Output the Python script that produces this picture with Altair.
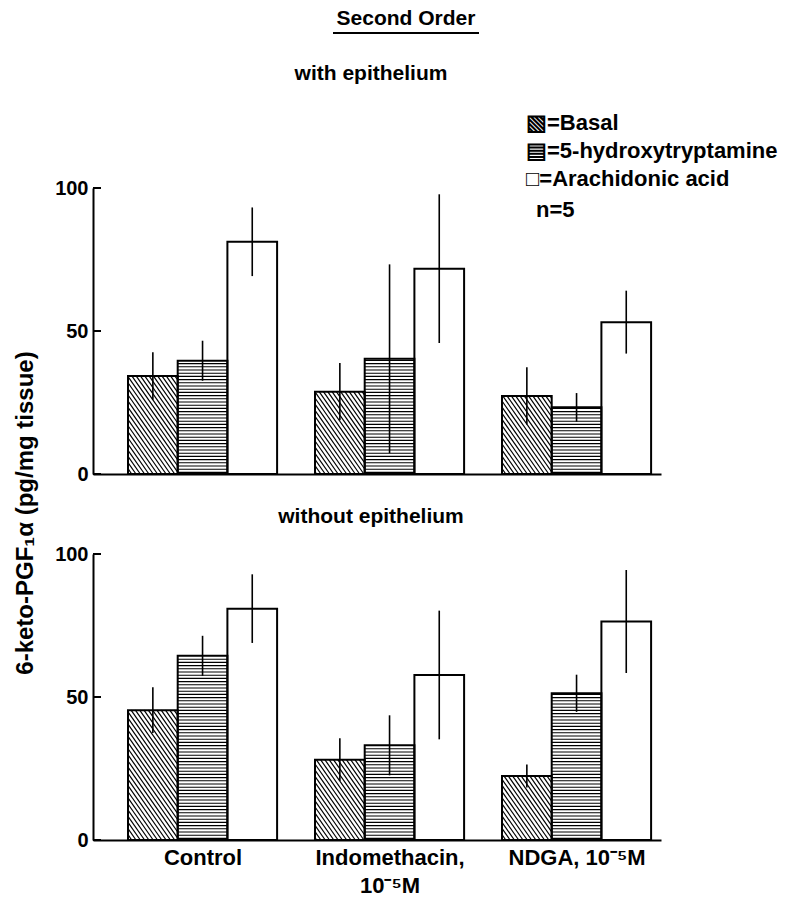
import math
import altair as alt
import pandas as pd

# ---------------- data ----------------
groups = ["Control", "Indomethacin, 10⁻⁵M", "NDGA, 10⁻⁵M"]
series = ["Basal", "5-hydroxytryptamine", "Arachidonic acid"]

with_basal = [34.3, 28.8, 27.3]
with_basal_err = [8.3, 10.0, 10.0]
with_5ht = [39.6, 40.3, 23.3]
with_5ht_err = [7.0, 33.0, 5.0]
with_aa = [81.2, 71.8, 53.1]
with_aa_err = [12.0, 26.0, 11.0]

without_basal = [45.4, 28.1, 22.4]
without_basal_err = [8.0, 7.5, 4.0]
without_5ht = [64.4, 33.1, 51.3]
without_5ht_err = [7.0, 10.5, 6.5]
without_aa = [80.9, 57.7, 76.4]
without_aa_err = [12.0, 22.5, 18.0]

y_ticks = [0, 50, 100]

# ---------------- layout ----------------
W, H = 568, 286          # plot area of each panel (px)
PPU = H / 100.0          # px per y unit
G_START, G_STEP, BAR_W = 35.0, 187.0, 49.7
FONT = "Liberation Sans"


def bar_table(vals):
    rows = []
    for s_i, (name, (means, errs)) in enumerate(zip(series, vals)):
        for g_i, g in enumerate(groups):
            left = G_START + g_i * G_STEP + s_i * BAR_W
            rows.append(dict(group=g, series=name, left=left, right=left + BAR_W,
                             center=left + BAR_W / 2, value=means[g_i], base=0.0,
                             lo=means[g_i] - errs[g_i], hi=means[g_i] + errs[g_i]))
    return pd.DataFrame(rows)


def hatch_tables(bars):
    horiz, diag = [], []
    k = math.tan(math.radians(55))
    d = 4.3
    for _, r in bars.iterrows():
        L, R, Hp = r.left, r.right, r.value * PPU
        if r.series == "5-hydroxytryptamine":
            v = 1.6
            while v < Hp - 0.8:
                horiz.append(dict(x=L, x2=R, y=v / PPU))
                v += 3.2
        elif r.series == "Basal":
            step = k * d
            c = math.ceil(k * L / step) * step
            while c < Hp + k * R:
                u1 = max(L, (c - Hp) / k)
                u2 = min(R, c / k)
                if u2 - u1 > 0.3:
                    diag.append(dict(x=u1, y=(c - k * u1) / PPU,
                                     x2=u2, y2=(c - k * u2) / PPU))
                c += step
    return pd.DataFrame(horiz), pd.DataFrame(diag)


xs = alt.Scale(domain=[0, W], nice=False, zero=False)
ys = alt.Scale(domain=[0, 100], nice=False)

one = pd.DataFrame({"a": [0]})


def txt(s, x, y, size=21, align="center", angle=0, baseline="alphabetic"):
    kw = dict(font=FONT, fontWeight="bold", fontSize=size, align=align,
              baseline=baseline, color="black")
    if angle:
        kw["angle"] = angle
    return alt.Chart(one).mark_text(**kw).encode(
        x=alt.value(x), y=alt.value(y), text=alt.value(s))


def panel(vals, bottom):
    bars = bar_table(vals)
    horiz, diag = hatch_tables(bars)
    centers = [G_START + g * G_STEP + 1.5 * BAR_W for g in range(3)]
    if bottom:
        xaxis = alt.Axis(values=centers, labels=True, ticks=False, grid=False,
                         title=None, labelPadding=7, labelLineHeight=28,
                         labelFontSize=22, labelBaseline="top",
                         labelExpr="datum.value < 200 ? 'Control' : (datum.value < 400 ? ['Indomethacin,', '10⁻⁵M'] : 'NDGA, 10⁻⁵M')")
    else:
        xaxis = alt.Axis(labels=False, ticks=False, grid=False, title=None)
    yaxis = alt.Axis(values=y_ticks, ticks=False, grid=False, title=None,
                     labelPadding=5, labelFontSize=20)

    X = lambda f: alt.X(f, scale=xs, axis=xaxis, title=None)
    Y = lambda f: alt.Y(f, scale=ys, axis=yaxis, title=None)

    fill = alt.Chart(bars).mark_rect(fill="white").encode(
        x=X("left:Q"), x2="right:Q", y=Y("value:Q"), y2="base:Q")
    h = alt.Chart(horiz).mark_rule(color="black", strokeWidth=1.1).encode(
        x=X("x:Q"), x2="x2:Q", y=Y("y:Q"))
    dg = alt.Chart(diag).mark_rule(color="black", strokeWidth=1.2).encode(
        x=X("x:Q"), x2="x2:Q", y=Y("y:Q"), y2="y2:Q")
    outline = alt.Chart(bars).mark_rect(fillOpacity=0, stroke="black", strokeWidth=2).encode(
        x=X("left:Q"), x2="right:Q", y=Y("value:Q"), y2="base:Q")
    err = alt.Chart(bars).mark_rule(color="black", strokeWidth=1.6).encode(
        x=X("center:Q"), y=Y("lo:Q"), y2="hi:Q")
    tk = alt.Chart(pd.DataFrame({"t": y_ticks})).mark_rule(color="black", strokeWidth=2).encode(
        x=alt.value(0), x2=alt.value(8), y=Y("t:Q"))

    layers = [fill, h, dg, outline, err, tk]
    if not bottom:
        layers += [
            txt("Second Order", 313, -163),
            alt.Chart(one).mark_rule(color="black", strokeWidth=2).encode(
                x=alt.value(240), x2=alt.value(386), y=alt.value(-155)),
            txt("with epithelium", 278, -108),
            txt("▧=Basal", 433, -58, size=22, align="left"),
            txt("▤=5-hydroxytryptamine", 433, -30, size=22, align="left"),
            txt("□=Arachidonic acid", 433, -2, size=22, align="left"),
            txt("n=5", 443, 29, size=22, align="left"),
            txt("6-keto-PGF₁α (pg/mg tissue)", -67, 325, size=24, angle=270,
                baseline="middle"),
        ]
    else:
        layers += [txt("without epithelium", 278, -31)]
    return alt.layer(*layers).properties(width=W, height=H)


top = panel([(with_basal, with_basal_err), (with_5ht, with_5ht_err),
             (with_aa, with_aa_err)], bottom=False)
bot = panel([(without_basal, without_basal_err), (without_5ht, without_5ht_err),
             (without_aa, without_aa_err)], bottom=True)

chart = alt.vconcat(top, bot, spacing=80, bounds="flush").properties(
    padding={"left": 14, "top": 8, "right": 4, "bottom": 2},
    background="white",
).configure_view(stroke=None).configure_axis(
    domainColor="black", domainWidth=2, labelColor="black",
    labelFont=FONT, labelFontWeight="bold",
)

chart.save("out.html", embed_options={"renderer": "svg", "actions": False})
